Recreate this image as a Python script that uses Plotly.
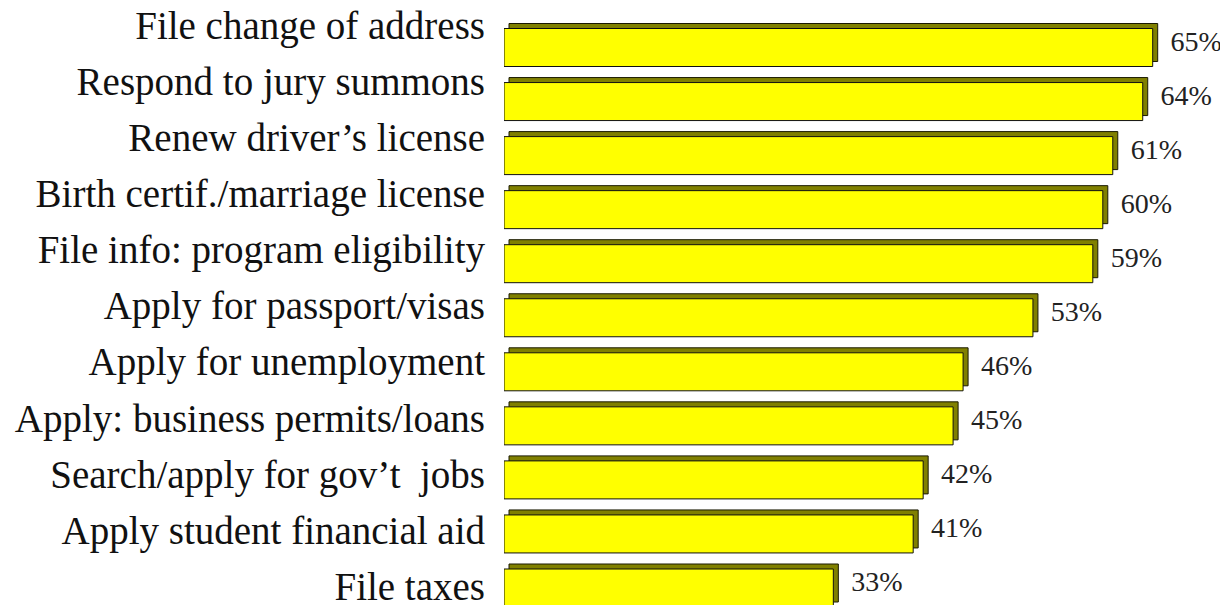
import plotly.graph_objects as go

# ---- data ----
categories = [
    "File change of address",
    "Respond to jury summons",
    "Renew driver\u2019s license",
    "Birth certif./marriage license",
    "File info: program eligibility",
    "Apply for passport/visas",
    "Apply for unemployment",
    "Apply: business permits/loans",
    "Search/apply for gov\u2019t  jobs",
    "Apply student financial aid",
    "File taxes",
]
values = [65, 64, 61, 60, 59, 53, 46, 45, 42, 41, 33]
value_labels = [f"{v}%" for v in values]

# ---- styling / geometry (page has an 8px body margin) ----
page_off = 8
W, H = 1228 - page_off, 605 - page_off
left = 504 - page_off
px_per_unit = 9.98
x_max = (W - left) / px_per_unit
row_px = 54.05
first_row_px = 47.5 - page_off
bar_w = 38 / row_px
depth_x = 5 / px_per_unit
depth_y = 5 / row_px

bar_range = [(H - first_row_px) / row_px, -first_row_px / row_px]
label_row_px = 56.05
first_label_px = 25.5 - page_off
label_range = [(H - first_label_px) / label_row_px, -first_label_px / label_row_px]
txt_shift = 4 / row_px
text_range = [bar_range[0] + txt_shift, bar_range[1] + txt_shift]

serif = "Liberation Serif, Times New Roman, serif"

fig = go.Figure()

# back (depth) face
fig.add_trace(go.Bar(
    y=categories, x=values, base=depth_x, orientation="h",
    width=bar_w, offset=-bar_w / 2 - depth_y,
    marker=dict(color="#808000", line=dict(color="#1a1a00", width=1)),
    hoverinfo="skip", showlegend=False,
))
# front face
fig.add_trace(go.Bar(
    y=categories, x=values, base=0, orientation="h",
    width=bar_w, offset=-bar_w / 2,
    marker=dict(color="#FFFF00", line=dict(color="#111111", width=1)),
    hoverinfo="skip", showlegend=False,
))
# category labels (own axis)
fig.add_trace(go.Scatter(
    y=categories, x=[0] * len(categories), yaxis="y2", mode="markers",
    marker=dict(opacity=0), hoverinfo="skip", showlegend=False,
))
# value labels
fig.add_trace(go.Scatter(
    y=categories, x=values, yaxis="y3", mode="markers+text",
    text=value_labels, textposition="middle right",
    textfont=dict(family=serif, size=28, color="#222222"),
    marker=dict(size=27, color="rgba(0,0,0,0)"),
    hoverinfo="skip", showlegend=False, cliponaxis=False,
))

fig.update_layout(
    width=W, height=H,
    margin=dict(l=left, r=0, t=0, b=0, autoexpand=False),
    paper_bgcolor="white", plot_bgcolor="white",
    barmode="overlay",
    xaxis=dict(range=[0, x_max], visible=False, automargin=False),
    yaxis=dict(type="category", categoryorder="array", categoryarray=categories,
               range=bar_range, showticklabels=False, showgrid=False,
               zeroline=False, showline=False, ticks="", automargin=False),
    yaxis2=dict(type="category", categoryorder="array", categoryarray=categories,
                overlaying="y", side="left", anchor="x",
                range=label_range, showgrid=False, zeroline=False, showline=False,
                ticks="", ticklabelstandoff=18, automargin=False,
                tickfont=dict(family=serif, size=39, color="#111111")),
    yaxis3=dict(type="category", categoryorder="array", categoryarray=categories,
                overlaying="y", side="right", anchor="x",
                range=text_range, showticklabels=False, showgrid=False,
                zeroline=False, showline=False, ticks="", automargin=False),
)

fig.write_html("out.html")
